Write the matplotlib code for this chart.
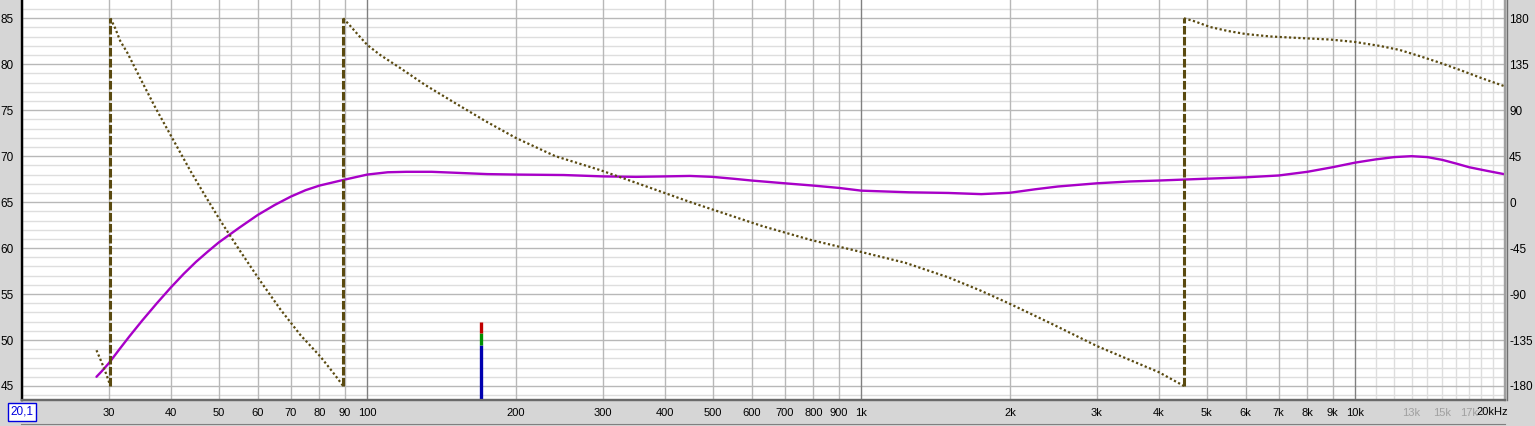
import matplotlib
matplotlib.use("Agg")
import matplotlib.pyplot as plt
from matplotlib.lines import Line2D
import matplotlib.transforms as mtransforms
import numpy as np

plt.rcParams['font.family'] = ['Liberation Sans', 'DejaVu Sans']

# SPL magnitude (dB) vs frequency (Hz)
mag_freq = [28.3, 29, 30, 31.5, 33, 35, 37.5, 40, 42.5, 45, 47.5, 50, 55, 60,
            65, 70, 75, 80, 90, 100, 110, 120, 135, 150, 175, 200, 250, 300,
            350, 400, 450, 500, 550, 600, 700, 800, 900, 1000, 1250, 1500,
            1750, 2000, 2250, 2500, 3000, 3500, 4000, 5000, 6000, 7000, 8000,
            9000, 10000, 11000, 12000, 13000, 14000, 15000, 16000, 17000,
            18500, 20000]
mag_db = [46.0, 46.6, 47.5, 49.0, 50.4, 52.1, 54.0, 55.7, 57.2, 58.5, 59.6,
          60.6, 62.2, 63.6, 64.7, 65.6, 66.3, 66.8, 67.45, 68.0, 68.25, 68.3,
          68.3, 68.2, 68.05, 68.0, 67.95, 67.8, 67.75, 67.8, 67.85, 67.75,
          67.55, 67.35, 67.05, 66.8, 66.55, 66.25, 66.07, 66.0, 65.87, 66.02,
          66.4, 66.7, 67.05, 67.25, 67.35, 67.55, 67.7, 67.9, 68.3, 68.8,
          69.3, 69.65, 69.9, 70.0, 69.9, 69.6, 69.2, 68.8, 68.4, 68.05]

# wrapped phase (degrees), one list per wrap segment
ph1_freq = [28.3, 29.0, 29.6, 30.2]
ph1_deg = [-145, -157, -168, -180]
ph2_freq = [30.2, 30.9, 31.6, 32.7, 33.9, 35.5, 37.2, 39.0, 40.9, 43.8, 47.0,
            50.4, 55.3, 60.7, 66.7, 73.2, 80.3, 85.0, 89.4]
ph2_deg = [180, 170, 158, 146, 131, 112, 93, 75, 57, 31, 6, -18, -48, -77,
           -105, -130, -151, -166, -180]
ph3_freq = [89.4, 92.4, 95.9, 100, 106.2, 116.6, 131, 150.6, 173.4, 200, 240,
            296, 356, 451, 630, 790, 1000, 1228, 1500, 1740, 2000, 2410, 3000,
            3500, 4000, 4500]
ph3_deg = [180, 172.5, 163.6, 153.9, 144.1, 131.3, 114.7, 97, 79.4, 62.8,
           45.1, 31.4, 17.7, 0, -23.4, -37, -48.8, -59.4, -73.6, -86.4,
           -99.6, -118.3, -140.9, -154.6, -166.4, -180]
ph4_freq = [4500, 4740, 5080, 5520, 6000, 6730, 7700, 8900, 10000, 11230,
            12300, 13500, 14900, 16400, 18000, 20000]
ph4_deg = [180, 176.9, 171.5, 167.6, 164.6, 162.2, 160.7, 159.2, 156.8,
           152.9, 149, 143, 136.2, 128.9, 121.5, 113.7]
wrap_freqs = [30.2, 89.4, 4500]

# level meter bar
meter_freq = 170
meter_levels = [49.45, 50.75, 52.0]   # tops of blue, green, red
meter_colors = ['#0000b0', '#009000', '#c00000']

x_labels = ['30', '40', '50', '60', '70', '80', '90', '100', '200', '300',
            '400', '500', '600', '700', '800', '900', '1k', '2k', '3k', '4k',
            '5k', '6k', '7k', '8k', '9k', '10k', '13k', '15k', '17k']
x_label_freqs = [30, 40, 50, 60, 70, 80, 90, 100, 200, 300, 400, 500, 600,
                 700, 800, 900, 1000, 2000, 3000, 4000, 5000, 6000, 7000,
                 8000, 9000, 10000, 13000, 15000, 17000]
db_ticks = [45, 50, 55, 60, 65, 70, 75, 80, 85]
deg_ticks = [-180, -135, -90, -45, 0, 45, 90, 135, 180]

W, H = 1535, 426
fig = plt.figure(figsize=(W / 100, H / 100), dpi=100, facecolor='#d6d6d6')
ax = fig.add_axes([22 / W, 26.5 / H, 1483 / W, 399.5 / H])
ax.set_facecolor('white')
ax.set_xscale('log')
ax.set_xlim(20, 20100)
ylo, yhi = 43.53, 86.99
ax.set_ylim(ylo, yhi)

# phase axis: -180..180 maps onto 45..85 dB
ax2 = ax.twinx()
ax2.set_ylim((ylo - 65) * 9, (yhi - 65) * 9)

# grid
for v in np.arange(44, 87, 1):
    major = v % 5 == 0
    ax.axhline(v, color='#b8b8b8' if major else '#dedede', lw=1.0,
               zorder=0.5 if major else 0.4)
for dec in [10, 100, 1000]:
    for m in range(2, 10):
        ax.axvline(dec * m, color='#b8b8b8', lw=1.0, zorder=0.5)
for m in range(11, 20):
    ax.axvline(1000 * m, color='#dedede', lw=1.0, zorder=0.45)
for f in [100, 1000, 10000]:
    ax.axvline(f, color='#808080', lw=1.0, zorder=0.6)

# magnitude
ax.plot(mag_freq, mag_db, color='#a800c8', lw=1.7, zorder=3,
        solid_capstyle='round', solid_joinstyle='round')

# phase
pcol = '#5a4a10'
for fx, py in [(ph1_freq, ph1_deg), (ph2_freq, ph2_deg),
               (ph3_freq, ph3_deg), (ph4_freq, ph4_deg)]:
    ax2.plot(fx, py, color=pcol, lw=1.6, linestyle=(0, (1, 1.1)),
             dash_capstyle='butt', zorder=2)
ax2.vlines(wrap_freqs, -180, 180, colors=pcol, lw=2.2,
           linestyles=[(0, (2.8, 0.8))], zorder=2)

# meter
bottoms = [ylo] + meter_levels[:-1]
for b, t, c in zip(bottoms, meter_levels, meter_colors):
    ax.vlines(meter_freq, b, t, colors=c, lw=2.4, zorder=4)

# ticks and labels
ax.set_yticks(db_ticks)
ax.set_yticklabels([str(v) for v in db_ticks], fontsize=8.5)
ax.tick_params(axis='y', length=0, pad=6)
ax2.set_yticks(deg_ticks)
ax2.set_yticklabels([str(v) for v in deg_ticks], fontsize=8.5)
ax2.tick_params(axis='y', length=0, pad=3)
ax.set_xticks(x_label_freqs)
ax.set_xticklabels(x_labels, fontsize=8)
ax.xaxis.set_minor_locator(plt.NullLocator())
ax.tick_params(axis='x', length=0, pad=6)
for lab in ax.get_xticklabels():
    if lab.get_text() in ('13k', '15k', '17k'):
        lab.set_color('#a0a0a0')

trans = mtransforms.blended_transform_factory(ax.transData, ax.transAxes)
off = mtransforms.offset_copy(trans, fig=fig, x=3, y=0, units='dots')
ax.text(20100, -12.5 / 399.5, '20kHz', transform=off, ha='right',
        va='center', fontsize=8)
ax.text(20, -12.5 / 399.5, '20,1', transform=trans, ha='center', va='center',
        fontsize=8.5, color='#0000e0',
        bbox=dict(boxstyle='square,pad=0.22', fc='white', ec='#0000e0', lw=1))

for a in (ax, ax2):
    a.spines['top'].set_visible(False)
    a.spines['left'].set_color('black')
    a.spines['left'].set_linewidth(1.6)
    a.spines['bottom'].set_color('#6a6a6a')
    a.spines['bottom'].set_linewidth(1.6)
    a.spines['right'].set_color('#a0a0a0')
    a.spines['right'].set_linewidth(1.6)

# scrollbar strip at the bottom
fig.add_artist(Line2D([21 / W, 1505 / W], [2 / H, 2 / H], color='#808080', lw=0.8))
fig.add_artist(Line2D([1507 / W, 1507 / W], [26 / H, 1], color='#707070', lw=1.0))

fig.savefig('out.png', dpi=100, facecolor=fig.get_facecolor())
